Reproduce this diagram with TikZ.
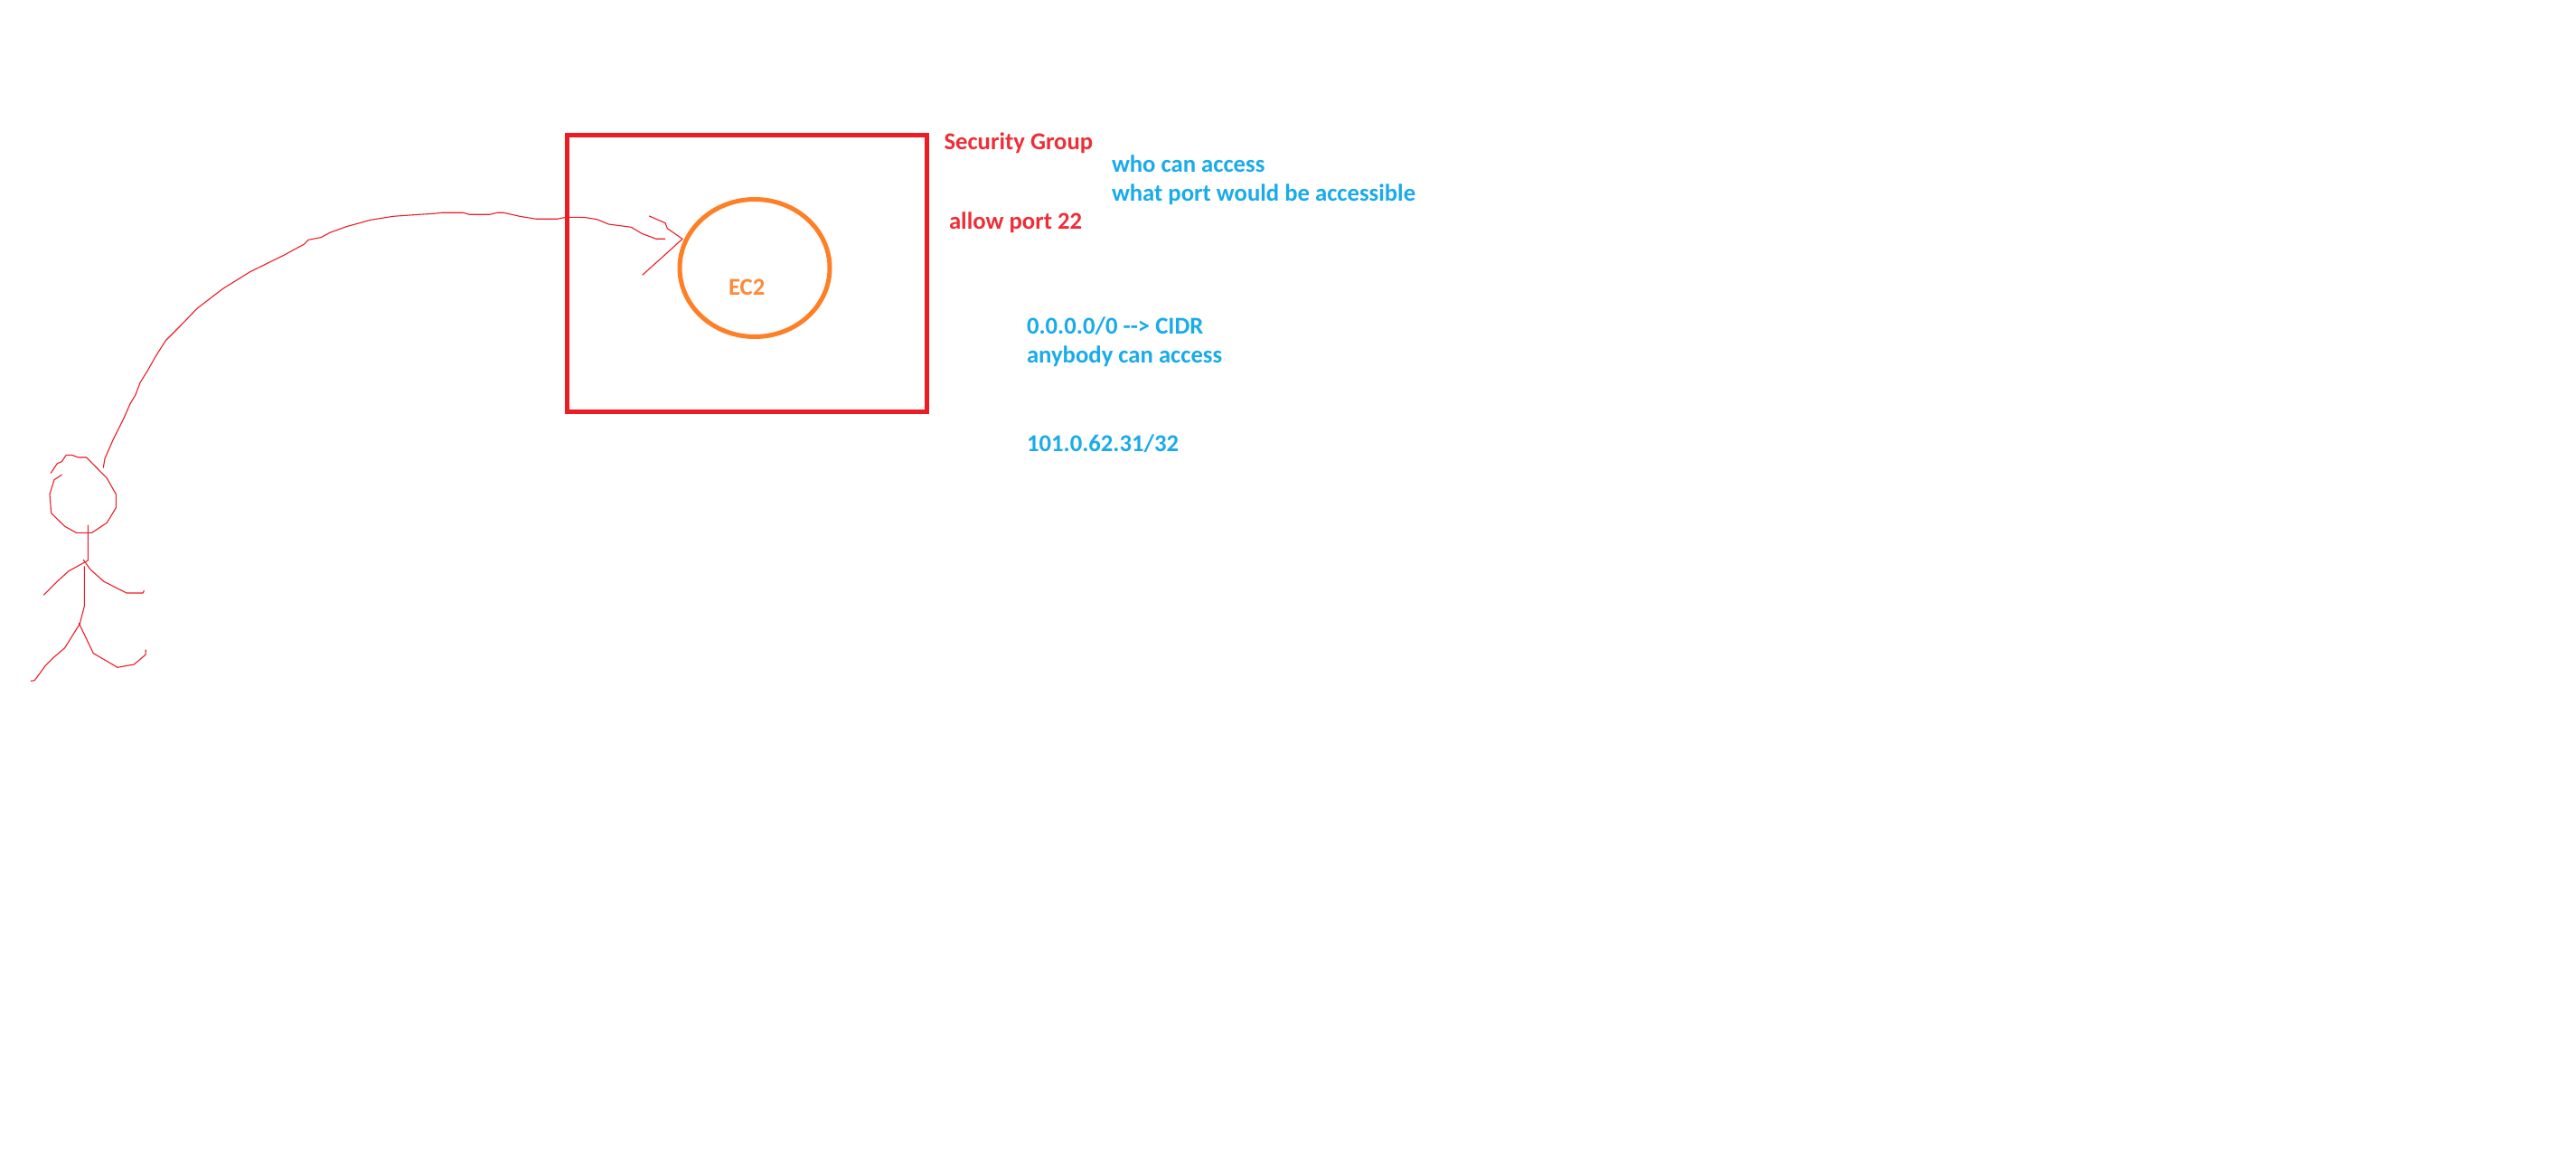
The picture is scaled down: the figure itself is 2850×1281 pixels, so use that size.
\documentclass[tikz,border=0pt]{standalone}
\usetikzlibrary{shapes.geometric}
\usepackage{fontspec}
\setmainfont{Carlito}
\definecolor{pred}{HTML}{ED1C24}
\definecolor{porange}{HTML}{FF7F27}
\definecolor{pblue}{HTML}{00A2E8}
\tikzset{
  ink/.style={draw=pred,line width=1.1pt,line join=round,line cap=round},
  label/.style={anchor=base west,inner sep=0pt,outer sep=0pt,font=\fontsize{26.7}{26.7}\selectfont\bfseries},
  redtext/.style={label,text=pred!92!white},
  bluetext/.style={label,text=pblue!90!white},
  orangetext/.style={label,text=porange!92!white},
}
\begin{document}
\begin{tikzpicture}[x=1pt,y=-1pt]
\path[use as bounding box,fill=white] (0,0) rectangle (2850,1281);
% security group box and instance
\node[draw=pred,line width=5pt,rectangle,inner sep=0pt,minimum width=398pt,minimum height=306pt] (sg) at (826.5,302.5) {};
\node[draw=porange,line width=5pt,ellipse,inner sep=0pt,minimum width=166pt,minimum height=152pt] (ec2) at (835,296.5) {};
\node[orangetext] (ec2label) at (806,326.2) {EC2};
% texts
\node[redtext] (sgtitle) at (1044.5,165.2) {Security Group};
\node[redtext] (allow) at (1050,253.6) {allow port 22};
\node[bluetext] (who) at (1230,190.9) {who can access};
\node[bluetext] (what) at (1230,222.6) {what port would be accessible};
\node[bluetext] (cidr) at (1136,369.2) {0.0.0.0/0 -{}-> CIDR};
\node[bluetext] (anybody) at (1136,401.6) {anybody can access};
\node[bluetext] (ip) at (1136,499.2) {101.0.62.31/32};
% freehand arrow
\coordinate (shaftstart) at (114.3,517.3);
\coordinate (tip) at (755,264.3);
\draw[ink] (shaftstart) -- (116,507.3) -- (125,486.7) -- (136.7,463.3) -- (144,446.7) -- (150,436.7) -- (155,423.3) -- (163.3,410) -- (171.7,395) -- (183.3,376.7) -- (200,360) -- (218.3,341) -- (246.7,319.3) -- (276.7,300.7) -- (313.3,282.7) -- (336.7,270) -- (341.3,265.3) -- (355,262.7) -- (365,257.3) -- (383.3,250.7) -- (410,243.3) -- (435,239.3) -- (463.3,237.3) -- (480,236.3) -- (489,235.3) -- (512.7,235.3) -- (519.3,237.3) -- (541.7,237.3) -- (550,235.3) -- (557.3,235.3) -- (575,239.3) -- (593.3,242.3) -- (616,242.3) -- (626.7,240.3) -- (646.7,240.5) -- (660.7,242.7) -- (673.3,248) -- (698.3,251.3) -- (710,258.3) -- (726,264.3) -- (735.7,264.3);
\draw[ink] (718.3,239) -- (736,246.7) -- (738.3,252.7) -- (tip) -- (733.3,284) -- (710.7,304.3);
% stick figure
\draw[ink] (56.3,523.3) -- (63.3,512.7) -- (68.3,510.7) -- (73.3,503.3) -- (79.3,503.3) -- (86.7,506) -- (95.7,506) -- (118.3,529) -- (128.3,546.7) -- (128.3,561.7) -- (118.3,578.3) -- (101.7,589.3) -- (84.3,589.3) -- (71.7,582.3) -- (56.7,567.7) -- (55,546.7) -- (60,530.7) -- (68.3,525.3);
\draw[ink] (97.3,581) -- (97.3,620) -- (76,631.7) -- (63.3,643.3) -- (48.3,658.3);
\draw[ink] (92.3,619.3) -- (100,630) -- (115,643.3) -- (140,656) -- (158.3,656) -- (159.3,653.3);
\draw[ink] (93.3,626.7) -- (93.3,670.7) -- (88.3,690) -- (71.7,716.7) -- (60,726.7) -- (50,736.7) -- (38.3,752.7) -- (34.3,753.3);
\draw[ink] (87.3,689.3) -- (103.3,722.7) -- (130,738.3) -- (148.3,735) -- (161,724.3) -- (161.3,719);
\end{tikzpicture}
\end{document}
